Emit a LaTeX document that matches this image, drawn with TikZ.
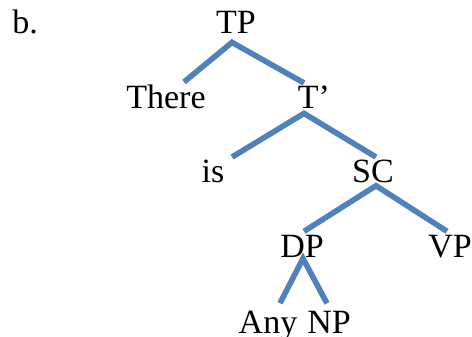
\documentclass[tikz,border=0pt]{standalone}
\usepackage{fontspec}
\setmainfont{Liberation Serif}
\definecolor{treeblue}{RGB}{79,129,189}
\tikzset{
  word/.style={inner sep=0pt,anchor=base,font=\fontsize{17}{20}\selectfont},
  branch/.style={treeblue,line width=2.8pt}
}
\begin{document}
\begin{tikzpicture}[x=0.5pt,y=-0.5pt]
\useasboundingbox (0,0) rectangle (472,337);
\node[word,anchor=base west] (label) at (12,33) {b.};
\node[word] (TP) at (236,33) {TP};
\node[word] (There) at (166,108) {There};
\node[word] (Tbar) at (314,108) {T’};
\node[word] (is) at (213,182) {is};
\node[word] (SC) at (373,182) {SC};
\node[word] (DP) at (302,257) {DP};
\node[word] (VP) at (450,257) {VP};
\node[word] (Any) at (268,333) {Any};
\node[word] (NP) at (329,333) {NP};

\draw[branch] ([xshift=9pt,yshift=1pt]There.north) -- ([xshift=-2pt,yshift=-4.5pt]TP.south) -- ([xshift=-5pt,yshift=1pt]Tbar.north);
\draw[branch] ([xshift=9.5pt,yshift=1pt]is.north) -- ([xshift=-5pt,yshift=-2.5pt]Tbar.south) -- ([xshift=1.5pt,yshift=1pt]SC.north);
\draw[branch] ([xshift=1pt,yshift=1.5pt]DP.north) -- ([xshift=1.5pt,yshift=-1.5pt]SC.south) -- ([xshift=-1.5pt,yshift=1.5pt]VP.north);
\draw[branch] ([xshift=6pt,yshift=3.5pt]Any.north) -- ([xshift=0.5pt,yshift=-0.5pt]DP.south) -- ([xshift=-1pt,yshift=3.5pt]NP.north);
\end{tikzpicture}
\end{document}
